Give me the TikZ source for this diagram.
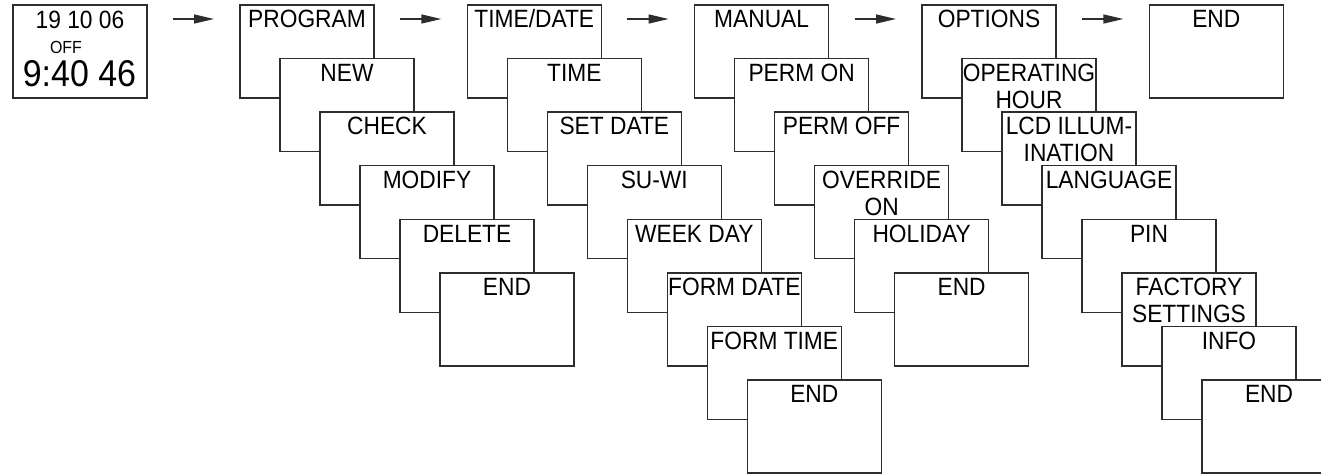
\documentclass[tikz,border=0pt]{standalone}
\usepackage{fontspec}
\setmainfont{Liberation Sans}
\newfontfamily\lblfont{Liberation Sans}[FakeStretch=0.91]
\usetikzlibrary{arrows.meta}
\definecolor{ln}{RGB}{45,45,45}
\tikzset{
  box/.style={draw=ln, line width=1.4pt, fill=white, minimum width=134pt,
    minimum height=93pt, anchor=north west, inner sep=0pt, outer sep=0pt},
  lbl/.style={anchor=north, inner sep=0pt, align=center,
    font=\lblfont\fontsize{25pt}{27pt}\selectfont},
  disp/.style={anchor=base, inner sep=0pt},
  arr/.style={draw=ln, line width=1.4pt, -{Triangle[length=20pt,width=9pt]},
    shorten <=26pt, shorten >=26pt},
}
\newcommand\menucol[3]{%
  \foreach \lab [count=\k from 0] in {#3} {
    \node[box] (#1\k) at (#2+40*\k, 5+53.57*\k) {};
    \node[lbl] (#1\k t) at ([yshift=-4.6pt]#1\k.north) {\rule{0pt}{18pt}\lab};
  }%
}
\begin{document}
\begin{tikzpicture}[x=1pt,y=-1pt]
\clip (0,0) rectangle (1321,475);
% display
\node[box] (d) at (13,5) {};
\node[disp, font=\lblfont\fontsize{25pt}{27pt}\selectfont] (d1) at (80,28.3) {19 10 06};
\node[disp, font=\lblfont\fontsize{17.5pt}{19pt}\selectfont] (d2) at (66,53.3) {OFF};
\node[disp, font=\lblfont\fontsize{37.3pt}{40pt}\selectfont] (d3) at (79.5,86.7) {9:40 46};
% columns
\menucol{p}{240}{PROGRAM,NEW,CHECK,MODIFY,DELETE,END}
\menucol{t}{467.3}{TIME/DATE,TIME,SET DATE,SU-WI,WEEK DAY,FORM DATE,FORM TIME,END}
\menucol{m}{694.6}{MANUAL,PERM ON,PERM OFF,{OVERRIDE\\ON},HOLIDAY,END}
\menucol{o}{922}{OPTIONS,{OPERATING\\HOUR},{LCD ILLUM-\\INATION},LANGUAGE,PIN,{FACTORY\\SETTINGS},INFO,END}
\menucol{e}{1149.3}{END}
% arrows
\draw[arr] ([yshift=-14pt]d.north east) -- ([yshift=-14pt]p0.north west);
\draw[arr] ([yshift=-14pt]p0.north east) -- ([yshift=-14pt]t0.north west);
\draw[arr] ([yshift=-14pt]t0.north east) -- ([yshift=-14pt]m0.north west);
\draw[arr] ([yshift=-14pt]m0.north east) -- ([yshift=-14pt]o0.north west);
\draw[arr] ([yshift=-14pt]o0.north east) -- ([yshift=-14pt]e0.north west);
\end{tikzpicture}
\end{document}
